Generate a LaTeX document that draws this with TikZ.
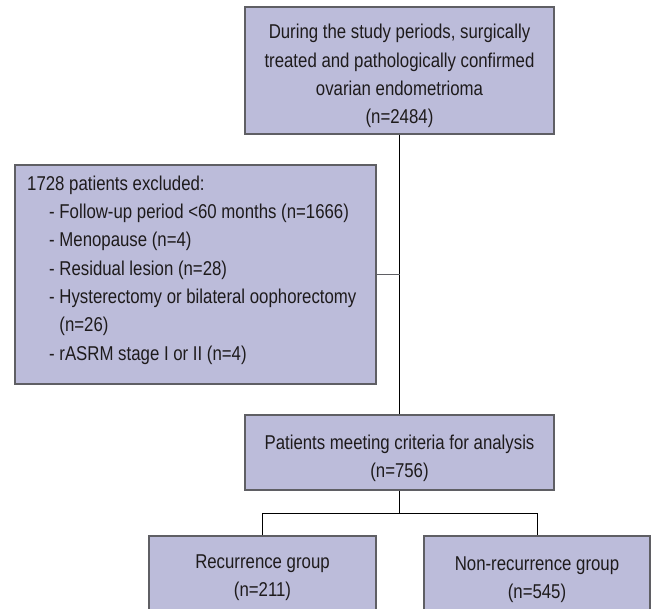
\documentclass[tikz,border=0pt]{standalone}
\usepackage{fontspec}
\setmainfont[FakeStretch=0.84]{Liberation Sans}
\definecolor{boxfill}{RGB}{188,188,218}
\definecolor{boxline}{RGB}{95,95,100}
\definecolor{txt}{RGB}{30,27,28}
\begin{document}
\begin{tikzpicture}[x=1pt,y=-1pt,
  box/.style={draw=boxline, line width=1.2pt, fill=boxfill, inner sep=0pt},
  lbl/.style={text=txt, inner sep=0pt, font=\fontsize{20}{28.3}\selectfont, align=center},
  link/.style={draw=black, line width=0.9pt}]
\clip (0,0) rectangle (656,608);
\fill[white] (0,0) rectangle (656,608);
\node[box, minimum width=309pt, minimum height=127pt] (top) at (399.5,70.5) {};
\node[lbl] (toptext) at (399.5,76)
  {During the study periods, surgically\\treated and pathologically confirmed\\ovarian endometrioma\\(n=2484)};
\node[box, minimum width=361pt, minimum height=219pt] (excl) at (195.5,274.5) {};
\node[lbl, align=left, anchor=west] (excltext) at (27,270)
  {1728 patients excluded:\\
   \hspace*{22pt}- Follow-up period <60 months (n=1666)\\
   \hspace*{22pt}- Menopause (n=4)\\
   \hspace*{22pt}- Residual lesion (n=28)\\
   \hspace*{22pt}- Hysterectomy or bilateral oophorectomy\\
   \hspace*{22pt}\phantom{- }(n=26)\\
   \hspace*{22pt}- rASRM stage I or II (n=4)};
\node[box, minimum width=309pt, minimum height=75pt] (mid) at (399.5,452.5) {};
\node[lbl] (midtext) at (399.5,458) {Patients meeting criteria for analysis\\(n=756)};
\node[box, minimum width=227pt, minimum height=84pt] (rec) at (262.5,578) {};
\node[lbl] (rectext) at (262.5,578) {Recurrence group\\(n=211)};
\node[box, minimum width=226pt, minimum height=84pt] (nonrec) at (537,578) {};
\node[lbl] (nonrectext) at (537,580) {Non-recurrence group\\(n=545)};
\coordinate (split) at (399.5,513.5);
\draw[link] (top.south) -- (mid.north);
\draw[link, draw=boxline] (excl.east) -- (excl.east -| top.south);
\draw[link] (mid.south) -- (split);
\draw[link] (rec.north) |- (split) -| (nonrec.north);
\end{tikzpicture}
\end{document}
